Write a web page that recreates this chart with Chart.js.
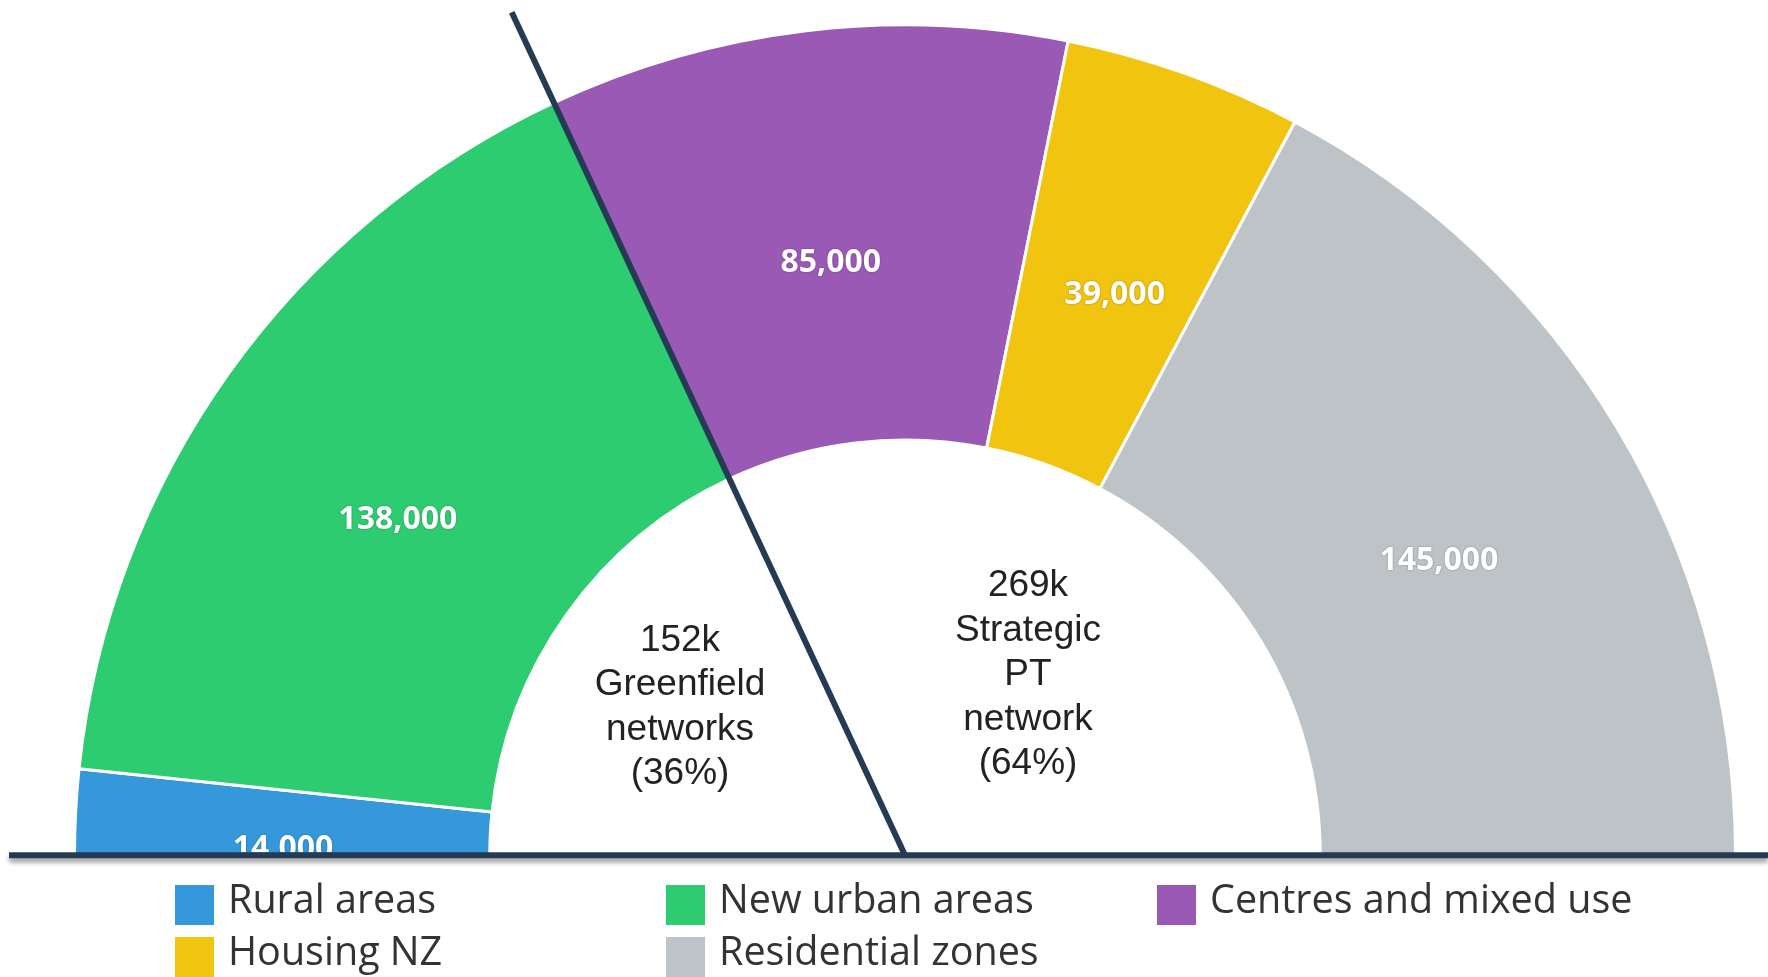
<!DOCTYPE html>
<html lang="en">
<head>
  <meta charset="UTF-8">
  <title>Dwelling capacity by area</title>
  <script src="https://cdn.jsdelivr.net/npm/chart.js"></script>
  <style>
    body { margin: 0; background: #fff; }
    #wrap { width: 1768px; height: 977px; position: relative; }
  </style>
</head>
<body>
  <div id="wrap"><canvas id="myChart"></canvas></div>

  <script>
    // Categories and values (dwellings)
    const categories = ['Rural areas', 'New urban areas', 'Centres and mixed use', 'Housing NZ', 'Residential zones'];
    const dwellings = [14000, 138000, 85000, 39000, 145000];
    // Group each category falls in, and the group captions
    const groupOf = [0, 0, 1, 1, 1];
    const groupLines = [['Greenfield', 'networks'], ['Strategic', 'PT', 'network']];

    const colors = ['#3498db', '#2ecc71', '#9b59b6', '#f1c40f', '#bdc3c7'];
    const navy = '#253b54';

    let total = dwellings.reduce((a, b) => a + b, 0);

    // Draws value labels, group captions, divider lines and the legend
    const overlay = {
      id: 'overlay',
      afterDatasetsDraw(chart) {
        let ctx = chart.ctx;
        let arcs = chart.getDatasetMeta(0).data;
        let cx = arcs[0].x, cy = arcs[0].y;

        // value labels (clipped at the base line)
        ctx.save();
        ctx.beginPath();
        ctx.rect(0, 0, chart.width, cy - 3);
        ctx.clip();
        ctx.font = 'bold 32px "Open Sans"';
        ctx.fillStyle = '#fff';
        ctx.textAlign = 'center';
        ctx.textBaseline = 'middle';
        ctx.shadowColor = 'rgba(0,0,0,0.35)';
        ctx.shadowBlur = 2;
        arcs.forEach((arc, i) => {
          let p = arc.tooltipPosition();
          ctx.fillText(dwellings[i].toLocaleString('en-US'), p.x, p.y + 26);
        });
        ctx.restore();

        // group captions in the hole
        let spots = [[cx - 225, cy - 148], [cx + 123, cy - 180]];
        ctx.save();
        ctx.font = '37px "Liberation Sans", Arial';
        ctx.fillStyle = '#222';
        ctx.textAlign = 'center';
        ctx.textBaseline = 'middle';
        groupLines.forEach((words, g) => {
          let sum = dwellings.filter((v, i) => groupOf[i] === g).reduce((a, b) => a + b, 0);
          let lines = [Math.round(sum / 1000) + 'k'].concat(words, '(' + Math.round(sum / total * 100) + '%)');
          let step = 44.5;
          let y0 = spots[g][1] - step * (lines.length - 1) / 2;
          lines.forEach((t, k) => ctx.fillText(t, spots[g][0], y0 + k * step));
        });
        ctx.restore();

        // divider between the two groups, along the arc boundary
        let lastGreen = groupOf.lastIndexOf(0);
        let ang = arcs[lastGreen].endAngle;
        let len = arcs[0].outerRadius * 1.12;
        ctx.save();
        ctx.strokeStyle = navy;
        ctx.lineWidth = 6;
        ctx.beginPath();
        ctx.moveTo(cx, cy);
        ctx.lineTo(cx + Math.cos(ang) * len, cy + Math.sin(ang) * len);
        ctx.stroke();
        ctx.restore();

        // white area under the chart, then the base line
        ctx.save();
        ctx.fillStyle = '#fff';
        ctx.fillRect(0, cy + 2, chart.width, chart.height - cy);
        ctx.shadowColor = 'rgba(0,0,0,0.4)';
        ctx.shadowBlur = 5;
        ctx.shadowOffsetY = 4;
        ctx.strokeStyle = navy;
        ctx.lineWidth = 6;
        ctx.beginPath();
        ctx.moveTo(9, cy);
        ctx.lineTo(chart.width, cy);
        ctx.stroke();
        ctx.restore();

        // legend, three columns
        ctx.save();
        ctx.font = '39.5px "Open Sans"';
        ctx.textAlign = 'left';
        ctx.textBaseline = 'alphabetic';
        categories.forEach((name, i) => {
          let col = i % 3, row = Math.floor(i / 3);
          let x = 175 + col * 491, y = 885 + row * 52;
          ctx.fillStyle = colors[i];
          ctx.fillRect(x, y, 39, 40);
          ctx.fillStyle = '#333';
          ctx.fillText(name, x + 53, y + 28);
        });
        ctx.restore();
      }
    };

    let ctx = document.getElementById('myChart').getContext('2d');

    new Chart(ctx, {
      type: 'doughnut',
      data: {
        labels: categories,
        datasets: [{
          data: dwellings,
          backgroundColor: colors,
          borderColor: '#fff',
          borderWidth: 3
        }]
      },
      options: {
        responsive: true,
        maintainAspectRatio: false,
        animation: false,
        rotation: -90,
        circumference: 180,
        cutout: '50%',
        layout: { padding: { left: 73, right: 31, top: 23, bottom: 120 } },
        plugins: {
          legend: { display: false },
          tooltip: { enabled: false }
        }
      },
      plugins: [overlay]
    });
  </script>
</body>
</html>
